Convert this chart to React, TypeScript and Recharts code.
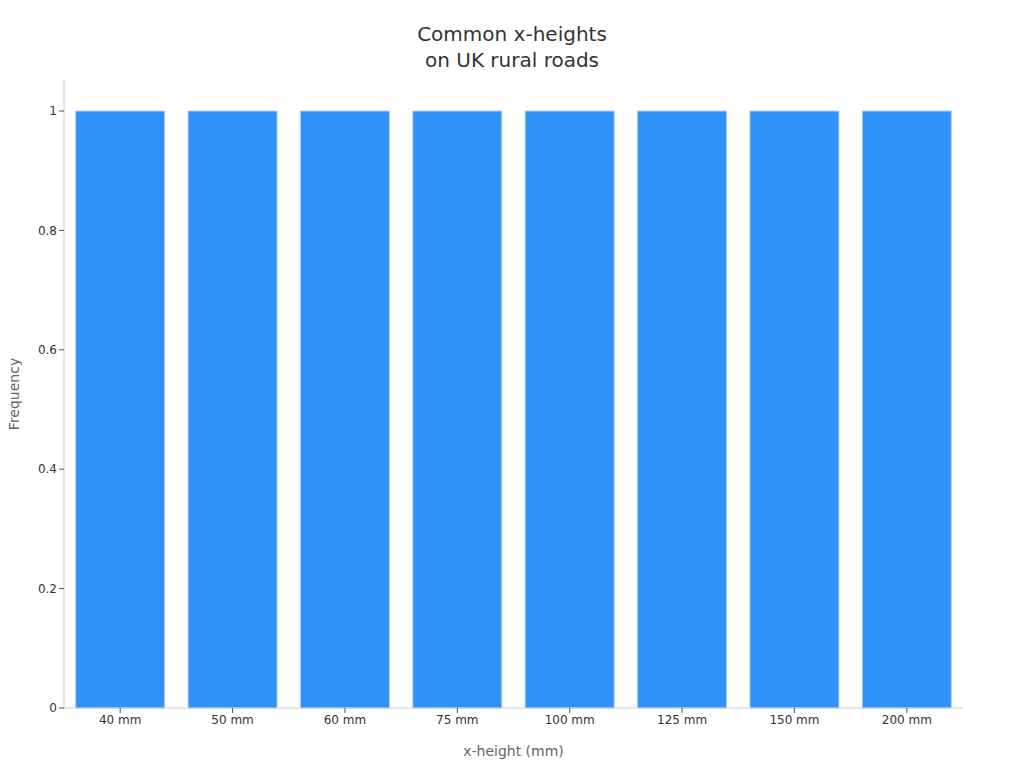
import React from "react";
import { BarChart, Bar, XAxis, YAxis } from "recharts";

const categories = ["40 mm", "50 mm", "60 mm", "75 mm", "100 mm", "125 mm", "150 mm", "200 mm"];
const frequencies = [1, 1, 1, 1, 1, 1, 1, 1];
const yTicks = [0, 0.2, 0.4, 0.6, 0.8, 1];

const data = categories.map((c, i) => ({ name: c, value: frequencies[i] }));

const FONT = "'DejaVu Sans', sans-serif";

export default function App() {
  return (
    <div style={{ position: "absolute", left: 0, top: 0, width: 1024, height: 768, background: "#fff", fontFamily: FONT }}>
      <div style={{ position: "absolute", left: 0, top: 21, width: 1024, textAlign: "center", fontSize: 20, lineHeight: "26px", color: "#333" }}>
        Common x-heights
        <br />
        on UK rural roads
      </div>
      <BarChart
        width={1024}
        height={768}
        data={data}
        margin={{ top: 80, right: 61, left: 0, bottom: 0 }}
        barCategoryGap="10.4%"
      >
        <XAxis
          dataKey="name"
          height={60}
          tick={{ fill: "#333", fontSize: 12, fontFamily: FONT }}
          tickLine={{ stroke: "#555" }}
          tickSize={5}
          axisLine={{ stroke: "#ccc" }}
          label={{ value: "x-height (mm)", position: "insideBottom", offset: 12, fill: "#666", fontSize: 14, fontFamily: FONT }}
        />
        <YAxis
          width={64}
          domain={[0, 1.052]}
          ticks={yTicks}
          tick={{ fill: "#333", fontSize: 12, fontFamily: FONT }}
          tickLine={{ stroke: "#555" }}
          tickSize={5}
          axisLine={{ stroke: "#ccc" }}
          label={{ value: "Frequency", angle: -90, position: "insideLeft", offset: 14, fill: "#666", fontSize: 14, fontFamily: FONT, style: { textAnchor: "middle" } }}
        />
        <Bar dataKey="value" fill="#3092f9" stroke="#a8cdf8" strokeWidth={1} isAnimationActive={false} />
      </BarChart>
    </div>
  );
}
